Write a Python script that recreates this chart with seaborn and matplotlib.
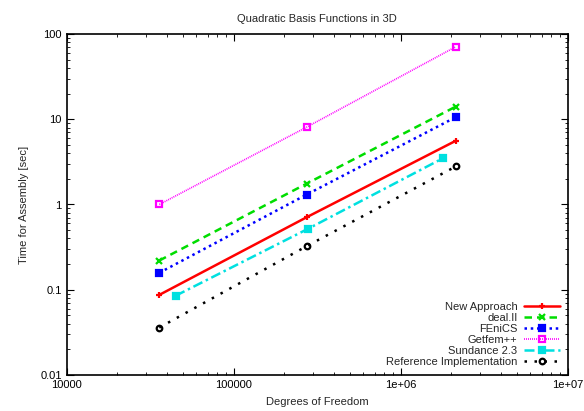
import matplotlib
matplotlib.use("Agg")
import matplotlib.pyplot as plt
import matplotlib.ticker as mticker
import seaborn as sns
import pandas as pd

sns.set_style("ticks")
plt.rcParams['font.family'] = ['Liberation Sans', 'DejaVu Sans']

dofs = [35937, 274625, 2146689]
dofs_sundance = [45000, 280000, 1800000]
new_approach = [0.087, 0.71, 5.6]
deal_ii = [0.22, 1.76, 14.1]
fenics = [0.158, 1.31, 10.6]
getfem = [1.0, 8.1, 71.0]
sundance = [0.085, 0.52, 3.5]
reference = [0.036, 0.325, 2.8]

series = [
    ("New Approach", dofs, new_approach, "#ff0000", "-", "+", "#ff0000", 1.8, 5),
    ("deal.II", dofs, deal_ii, "#00dd00", (0, (3, 2)), "x", "#00dd00", 1.8, 4.5),
    ("FEniCS", dofs, fenics, "#0000ff", (0, (1, 1.5)), "s", "#0000ff", 1.8, 4),
    ("Getfem++", dofs, getfem, "#ff00ff", (0, (0.6, 0.6)), "s", "none", 1.2, 4),
    ("Sundance 2.3", dofs_sundance, sundance, "#00e0e0", (0, (4, 1.5, 1, 1.5)), "s", "#00e0e0", 1.8, 4.5),
    ("Reference Implementation", dofs, reference, "#000000", (0, (1, 3)), "o", "none", 1.8, 4),
]

fig = plt.figure(figsize=(5.84, 4.11), dpi=100)
ax = fig.add_axes([66.5/584, 1-375/411, (567.5-66.5)/584, (375-34)/411])

for name, xs, ys, col, ls, mk, mfc, lw, ms in series:
    df = pd.DataFrame({"x": xs, "y": ys})
    sns.lineplot(data=df, x="x", y="y", ax=ax, color=col, linestyle=ls, linewidth=lw,
                 marker=mk, markersize=ms, markerfacecolor=mfc, markeredgecolor=col,
                 markeredgewidth=1.6, label=name)

ax.set_xscale("log")
ax.set_yscale("log")
ax.set_xlim(1e4, 1e7)
ax.set_ylim(0.01, 100)
ax.xaxis.set_major_locator(mticker.FixedLocator([1e4, 1e5, 1e6, 1e7]))
ax.xaxis.set_major_formatter(mticker.FixedFormatter(["10000", "100000", "1e+06", "1e+07"]))
ax.yaxis.set_major_locator(mticker.FixedLocator([0.01, 0.1, 1, 10, 100]))
ax.yaxis.set_major_formatter(mticker.FixedFormatter(["0.01", "0.1", "1", "10", "100"]))
ax.xaxis.set_minor_locator(mticker.LogLocator(base=10, subs=range(2, 10), numticks=20))
ax.yaxis.set_minor_locator(mticker.LogLocator(base=10, subs=range(2, 10), numticks=20))
ax.xaxis.set_minor_formatter(mticker.NullFormatter())
ax.yaxis.set_minor_formatter(mticker.NullFormatter())
ax.tick_params(which="both", direction="in", top=True, right=True, labelsize=8, colors="black")
ax.tick_params(which="major", length=5, width=0.8)
ax.tick_params(which="minor", length=2.5, width=0.6)
for s in ax.spines.values():
    s.set_linewidth(1.2)
    s.set_color("black")

ax.set_title("Quadratic Basis Functions in 3D", fontsize=8, pad=9)
ax.set_xlabel("Degrees of Freedom", fontsize=8, labelpad=5)
ax.set_ylabel("Time for Assembly [sec]", fontsize=8, labelpad=8)

leg = ax.legend(loc="lower right", frameon=False, fontsize=8, markerfirst=False,
                handlelength=3.2, labelspacing=0.1, borderaxespad=0.3, handletextpad=0.6)
for t in leg.get_texts():
    t.set_ha("right")
leg._legend_box.align = "right"

fig.savefig("out.png", dpi=100)
